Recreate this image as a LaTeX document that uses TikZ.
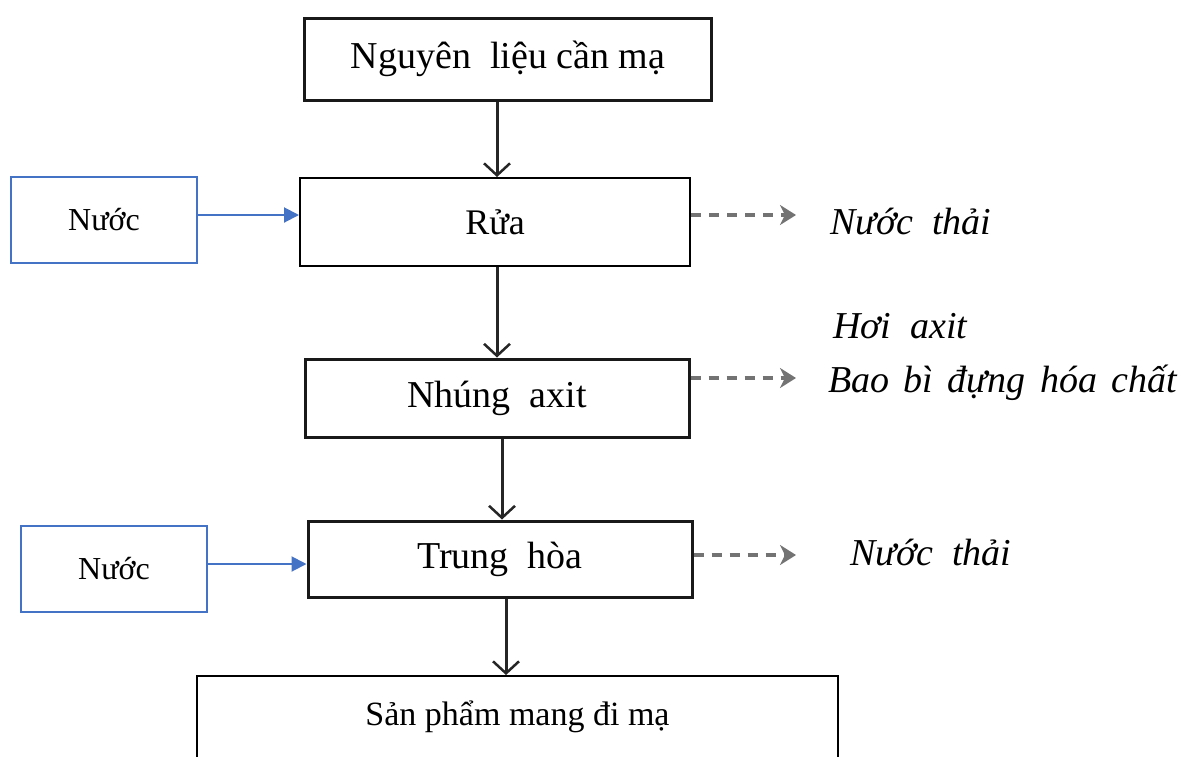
\documentclass[tikz,border=0pt]{standalone}
\usepackage{fontspec}
\setmainfont{Liberation Serif}
\usetikzlibrary{arrows.meta}
\newcommand{\wsp}{\ \hspace{5pt}}
\begin{document}
\begin{tikzpicture}[x=1pt,y=-1pt,
  stepbox/.style={draw=black!90,line width=3pt,fill=white,inner sep=0pt,font=\fontsize{38}{42}\selectfont},
  cleanbox/.style={draw=black,line width=2pt,fill=white,inner sep=0pt,font=\fontsize{34}{38}\selectfont},
  inbox/.style={draw={rgb,255:red,68;green,114;blue,196},line width=2pt,inner sep=0pt,font=\fontsize{32}{36}\selectfont},
  flow/.style={draw=black!85,line width=3pt,-{Straight Barb[length=12pt,width=26pt,line width=2.5pt]}},
  feed/.style={draw={rgb,255:red,68;green,114;blue,196},line width=2pt,-{Triangle[length=15pt,width=15pt]}},
  waste/.style={draw=black!55,line width=4pt,dash pattern=on 10pt off 8pt,-{Stealth[length=16pt,width=20pt,inset=5pt]}},
  outtext/.style={anchor=west,inner sep=0pt,font=\fontsize{38}{42}\selectfont\itshape}]
\useasboundingbox (0,0) rectangle (1182,756);
\clip (0,0) rectangle (1182,756);

% process steps
\node[stepbox,minimum width=407pt,minimum height=82pt] (raw) at (508,59) {Nguyên\ \ liệu cần mạ};
\node[cleanbox,font=\fontsize{36}{40}\selectfont,minimum width=390pt,minimum height=88pt] (wash) at (495,222) {Rửa};
\node[stepbox,minimum width=384pt,minimum height=78pt] (acid) at (497,398) {Nhúng\ \ axit};
\node[stepbox,minimum width=384pt,minimum height=76pt] (neut) at (500,559) {Trung\ \ hòa};
\node[cleanbox,minimum width=641pt,minimum height=82pt] (prod) at (517.5,717) {Sản phẩm mang đi mạ};

% water inputs
\node[inbox,minimum width=186pt,minimum height=86pt] (w1) at (104,220) {Nước};
\node[inbox,minimum width=186pt,minimum height=86pt] (w2) at (114,569) {Nước};

% main flow
\draw[flow] (raw.south -| 497,0) -- (wash.north -| 497,0);
\draw[flow] (wash.south -| 497,0) -- (acid.north -| 497,0);
\draw[flow] (acid.south -| 502,0) -- (neut.north -| 502,0);
\draw[flow] (neut.south -| 506,0) -- (prod.north -| 506,0);

\draw[feed] (w1.east |- 0,215) -- (wash.west |- 0,215);
\draw[feed] (w2.east |- 0,564) -- (neut.west |- 0,564);

% outputs
\coordinate (o1) at (796,215);
\coordinate (o2) at (796,378);
\coordinate (o3) at (796,555);
\draw[waste] (wash.east |- o1) -- (o1);
\draw[waste] (acid.east |- o2) -- (o2);
\draw[waste] (neut.east |- o3) -- (o3);

\node[outtext] (t1) at (830,222) {Nước\ \ thải};
\node[outtext] (t2) at (833,326) {Hơi\ \ axit};
\node[outtext] (t3) at (828,383) {Bao\wsp bì\wsp đựng\wsp hóa\wsp chất};
\node[outtext] (t4) at (850,553) {Nước\ \ thải};
\end{tikzpicture}
\end{document}
